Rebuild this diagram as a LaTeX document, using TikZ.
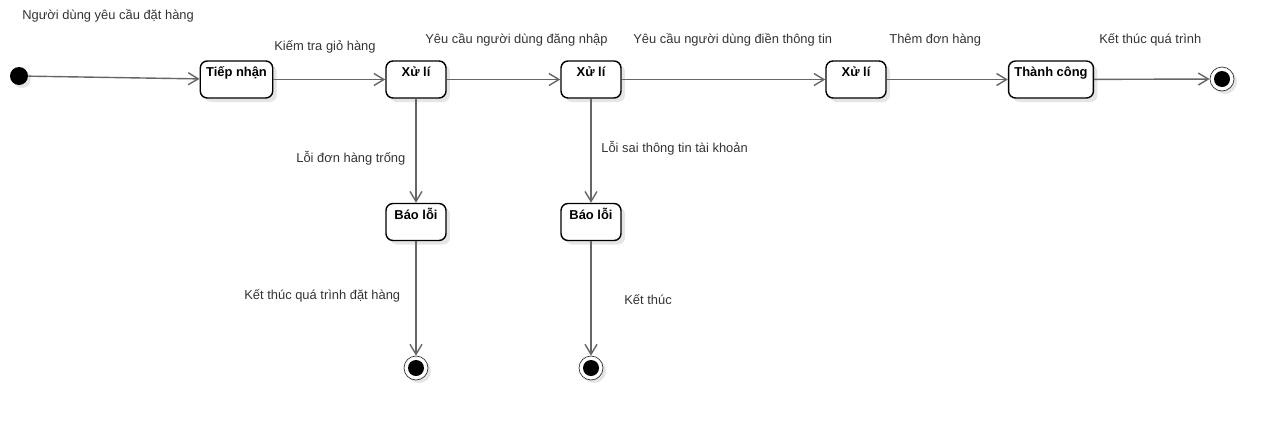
\documentclass[tikz,border=0pt]{standalone}
\usepackage{fontspec}
\setmainfont{Liberation Sans}
\usetikzlibrary{arrows.meta, shadows}

\begin{document}
\begin{tikzpicture}[x=0.02cm, y=-0.02cm, font=\fontsize{7.35}{8.5}\selectfont,
    state node/.style={rectangle, rounded corners=0.14cm, draw, thick, fill=white, font=\fontsize{7.35}{8.5}\selectfont\bfseries,
        minimum width=1.2cm, text height=0.24cm, text depth=0.36cm, inner ysep=0.07cm,
        drop shadow={shadow xshift=0.08cm, shadow yshift=-0.08cm, fill=black, opacity=0.1}},
    start node/.style={circle, fill=black, minimum size=0.36cm, inner sep=0pt,
        drop shadow={shadow xshift=0.06cm, shadow yshift=-0.06cm, fill=black, opacity=0.1}},
    end node/.style={circle, draw=black!80, fill=white, minimum size=0.48cm, inner sep=0pt,
        drop shadow={shadow xshift=0.06cm, shadow yshift=-0.06cm, fill=black, opacity=0.1},
        path picture={\fill[black] (path picture bounding box.center) circle (0.16cm);}},
    edge label/.style={text=black!80, anchor=west, inner sep=0pt},
    flow/.style={draw=black!60, thick, -{Straight Barb[length=0.2cm, width=0.24cm]}}]
\useasboundingbox (0,0) rectangle (1275,420);

% states
\node[start node] (start) at (19,76) {};
\node[state node, minimum width=1.42cm] (tiepnhan) at (236.5,79.5) {Tiếp nhận};
\node[state node] (xuli1) at (416,79.5) {Xử lí};
\node[state node] (xuli2) at (591,79.5) {Xử lí};
\node[state node] (xuli3) at (856,79.5) {Xử lí};
\node[state node, minimum width=1.64cm] (thanhcong) at (1051,79.5) {Thành công};
\node[end node] (end1) at (1222,79) {};
\node[state node] (baoloi1) at (416,222) {Báo lỗi};
\node[state node] (baoloi2) at (591,222) {Báo lỗi};
\node[end node] (end2) at (416,368) {};
\node[end node] (end3) at (591,368) {};

% transitions
\draw[flow] (start) -- (tiepnhan);
\draw[flow] (tiepnhan) -- (xuli1);
\draw[flow] (xuli1) -- (xuli2);
\draw[flow] (xuli2) -- (xuli3);
\draw[flow] (xuli3) -- (thanhcong);
\draw[flow] (thanhcong) -- (end1);
\draw[flow] (xuli1) -- (baoloi1);
\draw[flow] (xuli2) -- (baoloi2);
\draw[flow] (baoloi1) -- (end2);
\draw[flow] (baoloi2) -- (end3);

% labels
\node[edge label] (l0) at (22,16) {Người dùng yêu cầu đặt hàng};
\node[edge label] (l1) at (274,47) {Kiếm tra giỏ hàng};
\node[edge label] (l2) at (425,40) {Yêu cầu người dùng đăng nhập};
\node[edge label] (l3) at (633,40) {Yêu cầu người dùng điền thông tin};
\node[edge label] (l4) at (889,40) {Thêm đơn hàng};
\node[edge label] (l5) at (1099,40) {Kết thúc quá trình};
\node[edge label] (l6) at (296,158) {Lỗi đơn hàng trống};
\node[edge label] (l7) at (601,148) {Lỗi sai thông tin tài khoản};
\node[edge label] (l8) at (244,296) {Kết thúc quá trình đặt hàng};
\node[edge label] (l9) at (624,300) {Kết thúc};
\end{tikzpicture}
\end{document}
